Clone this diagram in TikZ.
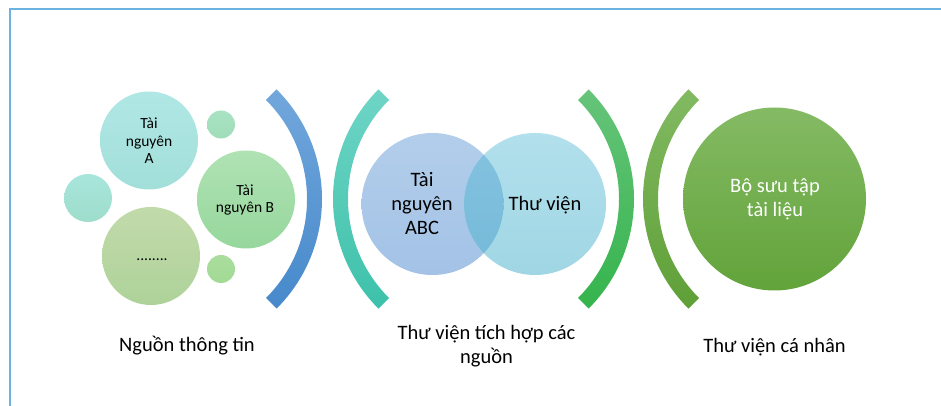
\documentclass[tikz,border=0pt]{standalone}
\usepackage{fontspec}
\setmainfont{Carlito}
\usetikzlibrary{calc}
\definecolor{framec}{HTML}{6CB2E2}
\definecolor{cAt}{HTML}{B0E7E5}\definecolor{cAb}{HTML}{A2DFD9}
\definecolor{cSt}{HTML}{A8E2C4}\definecolor{cSb}{HTML}{A0DDB8}
\definecolor{cMt}{HTML}{A8E6DC}\definecolor{cMb}{HTML}{9EDCCB}
\definecolor{cBt}{HTML}{B0E2B4}\definecolor{cBb}{HTML}{96D79C}
\definecolor{cDt}{HTML}{C2DAAA}\definecolor{cDb}{HTML}{AED29A}
\definecolor{cQt}{HTML}{AADD9E}\definecolor{cQb}{HTML}{A2DA94}
\definecolor{aBt}{HTML}{72A7DC}\definecolor{aBb}{HTML}{4689CB}
\definecolor{aTt}{HTML}{6FD5C6}\definecolor{aTb}{HTML}{3DC1AA}
\definecolor{aGt}{HTML}{66C47A}\definecolor{aGb}{HTML}{35B44D}
\definecolor{aOt}{HTML}{82BA62}\definecolor{aOb}{HTML}{5F9F37}
\definecolor{vLt}{HTML}{B3CEEB}\definecolor{vLb}{HTML}{A3C2E6}
\definecolor{vRt}{HTML}{B2E0EC}\definecolor{vRb}{HTML}{A0D6E4}
\definecolor{vXt}{HTML}{85C3E0}\definecolor{vXb}{HTML}{74B9D8}
\definecolor{gGt}{HTML}{84BA64}\definecolor{gGb}{HTML}{62A33A}
\tikzset{
  lbl/.style={align=center, text=black, inner sep=0pt},
  small/.style={lbl, font=\fontsize{15.5}{17.5}\selectfont},
  big/.style={lbl, font=\fontsize{20.5}{24}\selectfont},
}
\begin{document}
\begin{tikzpicture}[x=1pt,y=1pt]
\useasboundingbox (0,0) rectangle (941,406);
% frame
\draw[framec, line width=2pt] (9.5,0) -- (9.5,397) -- (941,397);
% left cluster
\shade[top color=cAt, bottom color=cAb] (149,265.5) circle (49);
\shade[top color=cSt, bottom color=cSb] (221,281.5) circle (14);
\shade[top color=cMt, bottom color=cMb] (88,208) circle (24);
\shade[top color=cBt, bottom color=cBb] (246,206.5) circle (49);
\shade[top color=cDt, bottom color=cDb] (151,150) circle (49);
\shade[top color=cQt, bottom color=cQb] (221,137) circle (14);
\node[small] (ta) at (149,265) {Tài\\nguyên\\A};
\node[small] (tb) at (245,206) {Tài\\nguyên B};
\node[small] (td) at (152,146) {........};
% arcs
\coordinate (cb) at (167,207);
\coordinate (ct) at (488,207);
\coordinate (cg) at (479,207);
\coordinate (co) at (798,207);
\shade[top color=aBt, bottom color=aBb]
  ($(cb)+(-45:155)$) arc[start angle=-45,end angle=45,radius=155]
  -- ($(cb)+(45:140)$) arc[start angle=45,end angle=-45,radius=140] -- cycle;
\shade[top color=aTt, bottom color=aTb]
  ($(ct)+(135:155)$) arc[start angle=135,end angle=225,radius=155]
  -- ($(ct)+(225:140)$) arc[start angle=225,end angle=135,radius=140] -- cycle;
\shade[top color=aGt, bottom color=aGb]
  ($(cg)+(-45:155)$) arc[start angle=-45,end angle=45,radius=155]
  -- ($(cg)+(45:140)$) arc[start angle=45,end angle=-45,radius=140] -- cycle;
\shade[top color=aOt, bottom color=aOb]
  ($(co)+(135:155)$) arc[start angle=135,end angle=225,radius=155]
  -- ($(co)+(225:140)$) arc[start angle=225,end angle=135,radius=140] -- cycle;
% venn
\shade[top color=vLt, bottom color=vLb] (432.5,202) circle (71);
\shade[top color=vRt, bottom color=vRb] (535,202) circle (71);
\begin{scope}
  \clip (432.5,202) circle (71);
  \shade[top color=vXt, bottom color=vXb] (535,202) circle (71);
\end{scope}
\node[big] (abc) at (422,202) {Tài\\nguyên\\ABC};
\node[big] (tv) at (545,201) {Thư viện};
% big green
\shade[top color=gGt, bottom color=gGb] (774.5,207) circle (91.5);
\node[big, text=white] (bst) at (775,206.5) {Bộ sưu tập\\tài liệu};
% bottom labels
\node[big] (l1) at (187,60) {Nguồn thông tin};
\node[big] (l2) at (486.5,60) {Thư viện tích hợp các\\nguồn};
\node[big] (l3) at (774.5,59) {Thư viện cá nhân};
\end{tikzpicture}
\end{document}
